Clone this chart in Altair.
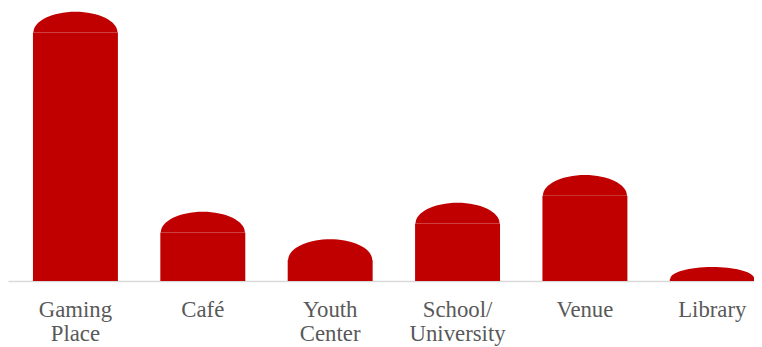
import altair as alt
import pandas as pd

categories = ["Gaming Place", "Café", "Youth Center", "School/University", "Venue", "Library"]
values = [272, 70, 42, 79, 107, 14]

df = pd.DataFrame({"category": categories, "value": values})

CAP = 21  # max cap height in y units (1 unit = 1 px)
BAR_W = 85

base = alt.Chart(df).transform_calculate(
    cap=f"min({CAP}, datum.value - 2)",
).transform_calculate(
    top="datum.value - datum.cap",
    r="datum.cap / {}".format(BAR_W / 2),
).transform_calculate(
    path="'M -1 0 C -1 ' + (-0.5523*datum.r) + ' -0.5523 ' + (-datum.r) + ' 0 ' + (-datum.r) + "
         "' C 0.5523 ' + (-datum.r) + ' 1 ' + (-0.5523*datum.r) + ' 1 0 Z'"
)

xenc = alt.X(
    "category:N",
    sort=categories,
    scale=alt.Scale(paddingInner=0.333, paddingOuter=0.196, range=[0, 780]),
    axis=alt.Axis(
        title=None,
        labelAngle=0,
        ticks=False,
        domainColor="#d9d9d9",
        domainWidth=1.5,
        labelFont="'Liberation Serif', 'Times New Roman', serif",
        labelFontSize=23,
        labelColor="#595959",
        labelLineHeight=24,
        labelPadding=18,
        labelBaseline="top",
        labelExpr="datum.label == 'School/University' ? ['School/', 'University'] : split(datum.label, ' ')",
    ),
)
yscale = alt.Scale(domain=[0, 273])

rects = base.mark_bar(color="#C00000").encode(
    x=xenc,
    y=alt.Y("top:Q", scale=yscale, axis=None),
    y2=alt.datum(0),
)

caps = base.mark_point(filled=True, opacity=1, color="#C00000", strokeWidth=0, size=BAR_W * BAR_W).encode(
    x=alt.X("category:N", sort=categories),
    y=alt.Y("top:Q", scale=yscale, axis=None),
    shape=alt.Shape("path:N", scale=None, legend=None),
)

chart = alt.layer(rects, caps).properties(
    width=754,
    height=273,
    autosize=alt.AutoSizeParams(type="none"),
    padding={"left": 0, "top": 1, "right": 0, "bottom": 65},
).configure_view(stroke=None).configure_axis(grid=False)

chart.save("out.html", embed_options={"renderer": "svg", "actions": False})
